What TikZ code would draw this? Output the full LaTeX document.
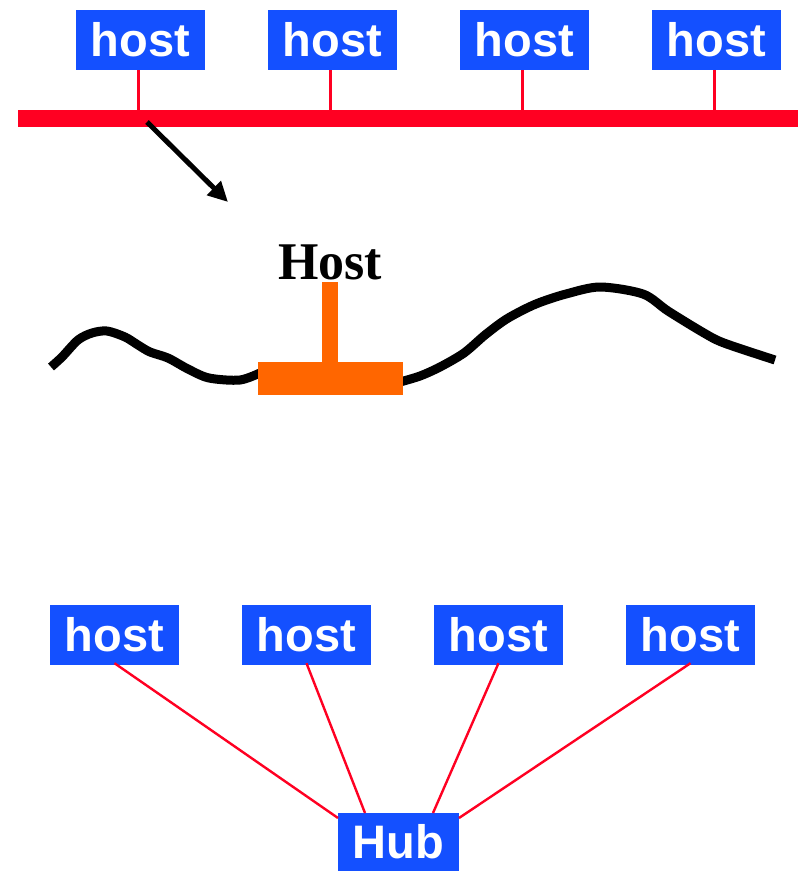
\documentclass[tikz,border=0pt]{standalone}
\usepackage{fontspec}
\setmainfont{Liberation Serif}
\setsansfont{Liberation Sans}
\usetikzlibrary{arrows.meta}
\definecolor{hostblue}{HTML}{1450FF}
\definecolor{busred}{HTML}{FF0022}
\definecolor{torange}{HTML}{FF6600}
\begin{document}
\begin{tikzpicture}[x=1pt,y=-1pt,
  hostbox/.style={fill=hostblue,text=white,font=\sffamily\bfseries\fontsize{47}{47}\selectfont,
    minimum width=129pt,minimum height=60pt,inner sep=0pt},
  stub/.style={draw=busred,line width=2.2pt},
  wire/.style={draw=busred,line width=2.4pt},
  cable/.style={draw=black,line width=9pt,line join=round}]
\useasboundingbox (0,0) rectangle (798,871);
% top bus
\fill[busred] (18,110) rectangle (798,127);
\coordinate (busl) at (18,110);
\foreach \i/\x in {1/140.5,2/332.5,3/524.5,4/716.5}{
  \node[hostbox] (t\i) at (\x,40) {host};
  \draw[stub] ([xshift=-2pt]t\i.south) -- ([xshift=-2pt]t\i.south |- busl);
}
% arrow
\coordinate (a1) at (147,122);
\coordinate (a2) at (228,202);
\draw[line width=5pt,-{Triangle[length=20pt,width=19pt]}] (a1) -- (a2);
% wavy cable
\draw[cable] plot[smooth,tension=0.5] coordinates {(51,367) (62,357) (78,340) (92,333) (107,331) (125,337) (138,345) (150,352) (168,358) (188,369) (209,378) (240,380) (262,372)};
\draw[cable] plot[smooth,tension=0.5] coordinates {(400,382) (420,376) (440,367) (464,353) (485,335) (505,320) (525,309) (541,302) (566,294) (600,287) (643,294) (668,311) (704,333) (724,343) (775,360)};
% T connector
\fill[torange] (322,282) rectangle (338,364);
\fill[torange] (258,362) rectangle (403,395);
\node[font=\bfseries\fontsize{53}{53}\selectfont,inner sep=0pt,anchor=base,xscale=0.98] (H) at (330,279) {Host};
% hub network
\foreach \i/\x in {1/114.5,2/306.5,3/498.5,4/690.5}{
  \node[hostbox] (b\i) at (\x,635) {host};
}
\node[hostbox,minimum width=121pt,minimum height=58pt] (hub) at (398.5,842) {Hub};
\coordinate (e1) at (338,818);
\coordinate (e2) at (365,813);
\coordinate (e3) at (433,813);
\coordinate (e4) at (459,818);
\draw[wire] ([yshift=2pt]b1.south) -- (e1);
\draw[wire] ([yshift=2pt]b2.south) -- (e2);
\draw[wire] ([yshift=2pt]b3.south) -- (e3);
\draw[wire] ([yshift=2pt]b4.south) -- (e4);
\end{tikzpicture}
\end{document}
